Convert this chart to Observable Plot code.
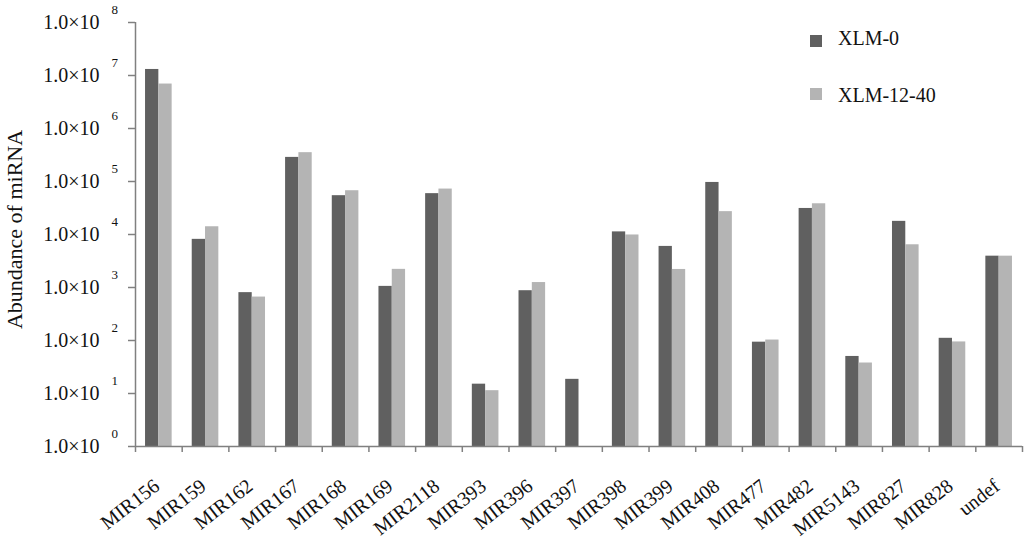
<!DOCTYPE html>
<html>
<head>
<meta charset="utf-8">
<script src="https://cdn.jsdelivr.net/npm/d3@7"></script>
<script src="https://cdn.jsdelivr.net/npm/@observablehq/plot@0.6"></script>
<style>
  html, body { margin: 0; padding: 0; background: #fff; }
  #wrap { position: relative; width: 1024px; height: 539px; font-family: "Liberation Serif", "DejaVu Serif", serif; }
  .leg { position: absolute; font-size: 20px; color: #111; line-height: 1; }
  .sw { position: absolute; width: 12px; height: 12px; }
</style>
</head>
<body>
<div id="wrap"></div>
<script>
const categories = ["MIR156","MIR159","MIR162","MIR167","MIR168","MIR169","MIR2118","MIR393","MIR396","MIR397","MIR398","MIR399","MIR408","MIR477","MIR482","MIR5143","MIR827","MIR828","undef"];
const seriesNames = ["XLM-0", "XLM-12-40"];
const xlm0 =    [13000000, 8100, 800, 285000, 54000, 1050, 59000, 15, 870, 18.5, 11200, 5960, 96000, 93, 31000, 50, 17700, 110, 3900];
const xlm1240 = [6900000, 14000, 660, 350000, 67000, 2200, 72000, 11.3, 1240, null, 9800, 2190, 27000, 102, 38000, 37.6, 6400, 94, 3900];
const yTicks = [1, 10, 100, 1000, 10000, 100000, 1000000, 10000000, 100000000];
const colors = ["#606060", "#b4b4b4"];

const rows = [];
categories.forEach((c, i) => {
  [xlm0, xlm1240].forEach((arr, s) => {
    if (arr[i] != null) rows.push({cat: c, i, s, series: seriesNames[s], value: arr[i]});
  });
});

const groupPad = 0.215, barW = 0.285;
const serif = "Liberation Serif, DejaVu Serif, serif";
const axisColor = "#808080";

const chart = Plot.plot({
  width: 1024,
  height: 539,
  marginLeft: 135,
  marginRight: 2,
  marginTop: 22,
  marginBottom: 93,
  style: {fontFamily: serif, background: "#fff"},
  x: {type: "linear", domain: [0, categories.length], axis: null},
  y: {type: "log", domain: [1, 1e8], axis: null},
  color: {domain: seriesNames, range: colors},
  marks: [
    Plot.rectY(rows, {
      x1: d => d.i + groupPad + d.s * barW,
      x2: d => d.i + groupPad + (d.s + 1) * barW,
      y1: 1,
      y2: "value",
      fill: "series"
    }),
    // y tick labels and exponents
    Plot.axisY({ticks: yTicks, tickSize: 0, tickPadding: 36, tickFormat: () => "1.0×10", fontSize: 20, fill: "#111", label: null}),
    Plot.text(yTicks, {y: d => d, frameAnchor: "left", dx: -24, dy: -13, text: d => String(Math.round(Math.log10(d))), fontSize: 13, fill: "#111"}),
    // y tick marks (left of axis)
    Plot.ruleY(yTicks, {x1: -0.15, x2: 0, stroke: axisColor, strokeWidth: 1.5}),
    // x tick marks (below axis)
    Plot.ruleX(d3.range(categories.length + 1), {y1: 1, y2: 0.77, stroke: axisColor, strokeWidth: 1.5}),
    // axis lines
    Plot.ruleX([0], {y1: 1, y2: 1e8, stroke: axisColor, strokeWidth: 1.5}),
    Plot.ruleY([1], {x1: 0, x2: categories.length, stroke: axisColor, strokeWidth: 1.5}),
    // category labels
    Plot.text(categories, {x: (d, i) => i + 0.5, y: 1, text: d => d, rotate: -38, textAnchor: "end", dx: -2, dy: 37, fontSize: 20, fill: "#111"}),
    // y title
    Plot.text(["Abundance of miRNA"], {frameAnchor: "left", textAnchor: "middle", dx: -121, dy: -5, rotate: -90, text: d => d, fontSize: 22, fill: "#111"})
  ]
});

const wrap = document.getElementById("wrap");
wrap.appendChild(chart);

const legendItems = [
  {name: seriesNames[0], color: colors[0], top: 35, textTop: 28},
  {name: seriesNames[1], color: colors[1], top: 88, textTop: 85}
];
legendItems.forEach(it => {
  const sw = document.createElement("div");
  sw.className = "sw";
  sw.style.left = "810px";
  sw.style.top = it.top + "px";
  sw.style.background = it.color;
  wrap.appendChild(sw);
  const t = document.createElement("div");
  t.className = "leg";
  t.style.left = "838px";
  t.style.top = it.textTop + "px";
  t.textContent = it.name;
  wrap.appendChild(t);
});
</script>
</body>
</html>
